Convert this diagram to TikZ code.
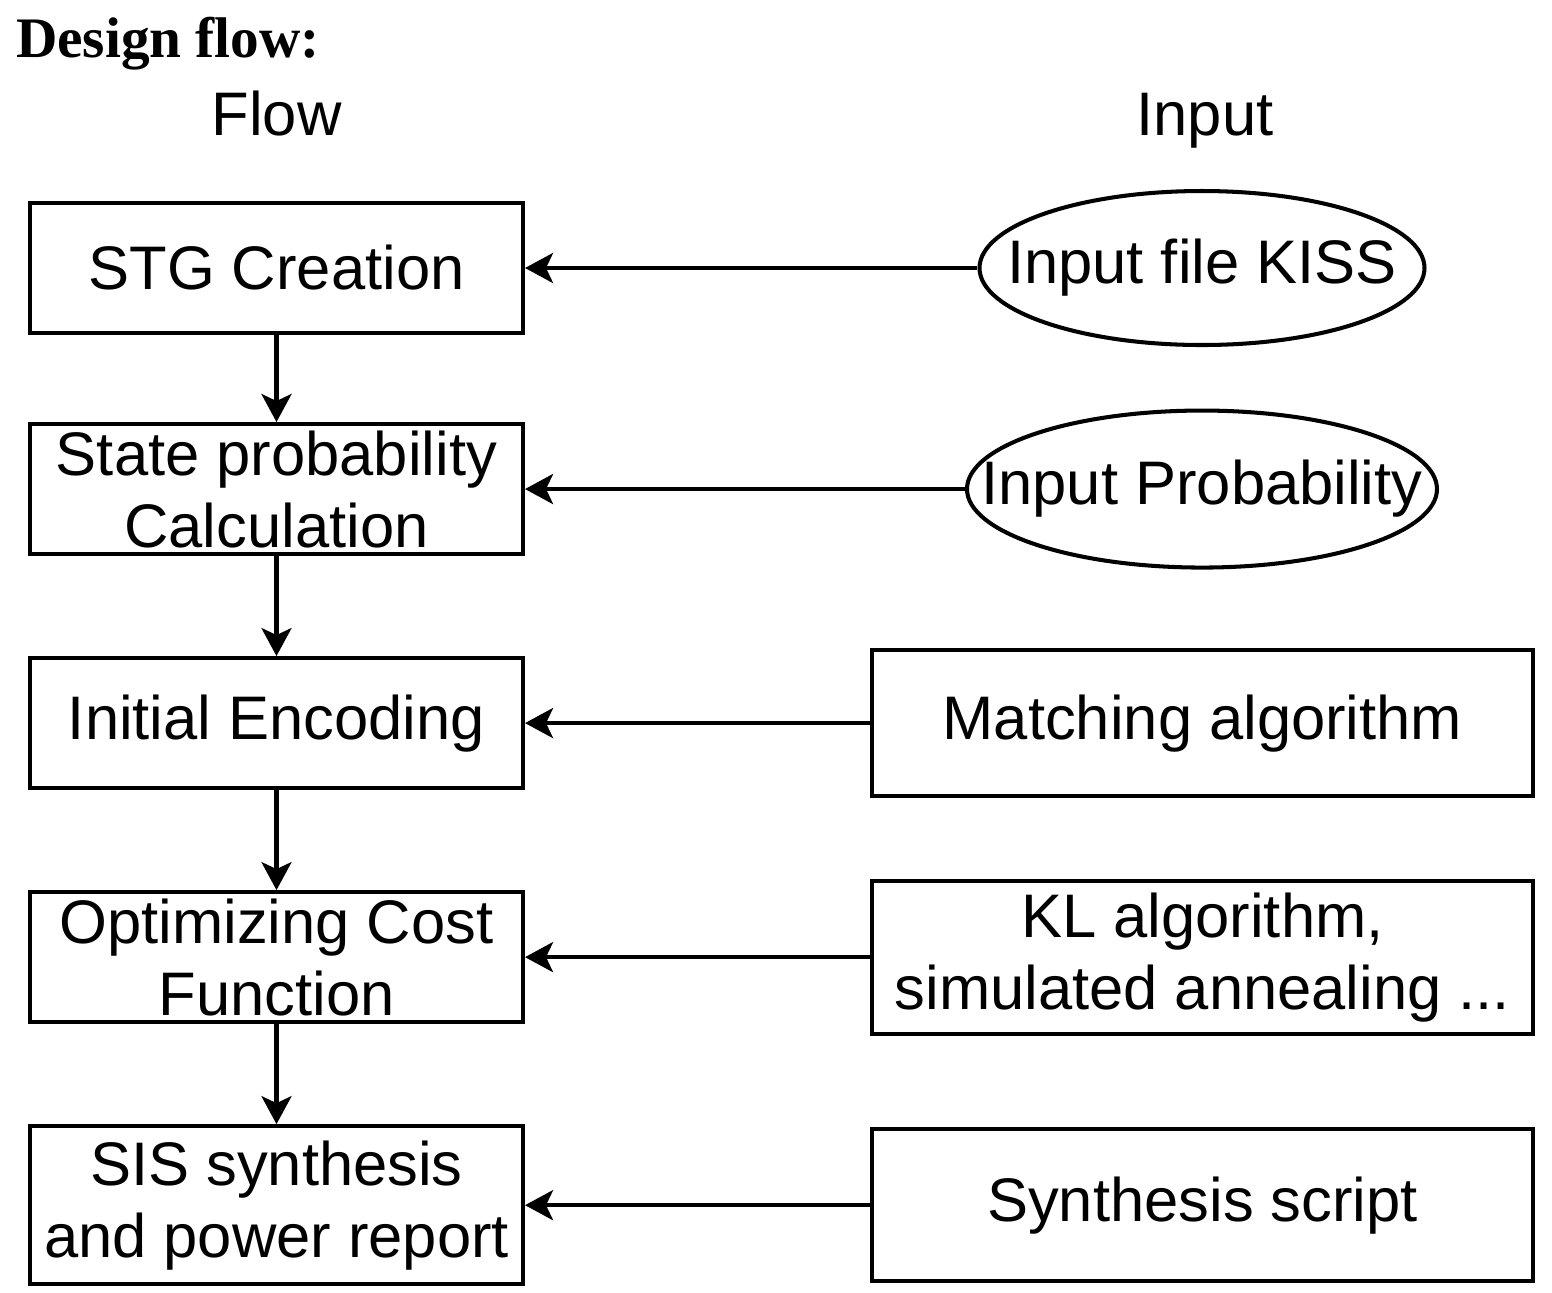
\documentclass[tikz,border=0pt]{standalone}
\usepackage{fontspec}
\setmainfont{Liberation Sans}
\newfontfamily\titlefont{Liberation Serif}
\usetikzlibrary{positioning,arrows.meta,shapes.geometric}

\begin{document}
\begin{tikzpicture}[line width=1.15pt,
        every node/.style={font=\fontsize{17.5}{20.5}\selectfont},
        flowbox/.style={draw, align=center, inner sep=0pt, minimum width=4.93cm, minimum height=1.3cm},
        inbox/.style={draw, align=center, inner sep=0pt, minimum width=6.61cm},
        inoval/.style={draw, ellipse, inner sep=0pt},
        feed/.style={-{Stealth[length=0.28cm, width=0.3cm, inset=0.07cm]}}]
        \useasboundingbox (0,0) rectangle (15.52,-12.92);

        \node[
            anchor=base west,
            inner sep=0pt,
            font=\titlefont\bfseries\fontsize{16.3}{19}\selectfont
        ](title) at (0.14,-0.57){Design flow:};

        \node[anchor=base](flowhead) at (2.765,-1.35){Flow};
        \node[anchor=base](inhead) at (12.05,-1.35){Input};

        % flow column
        \node[flowbox](stg) at (2.765,-2.68){STG Creation};
        \node[flowbox, below=0.87cm of stg](prob){State probability\\Calculation};
        \node[flowbox, below=1cm of prob](enc){Initial Encoding};
        \node[flowbox, below=1cm of enc](cost){Optimizing Cost\\Function};
        \node[flowbox, below=1cm of cost, minimum height=1.58cm](sis){SIS synthesis\\and power report};

        % input column
        \coordinate (incol) at (12.02,0);
        \node[inoval, minimum width=4.45cm, minimum height=1.54cm](kiss) at (incol |- stg){\makebox[0pt]{Input file KISS}};
        \node[inoval, minimum width=4.7cm, minimum height=1.57cm](inprob) at (incol |- prob){\makebox[0pt]{Input Probability}};
        \node[inbox, minimum height=1.46cm](match) at (12.025,0 |- enc){Matching algorithm};
        \node[inbox, minimum height=1.53cm](kl) at (12.025,0 |- cost){KL algorithm,\\simulated annealing ...};
        \node[inbox, minimum height=1.52cm](script) at (12.025,0 |- sis){Synthesis script};

        \draw [feed](stg.south) -- (prob.north);
        \draw [feed](prob.south) -- (enc.north);
        \draw [feed](enc.south) -- (cost.north);
        \draw [feed](cost.south) -- (sis.north);

        \draw [feed](kiss.west) -- (stg.east);
        \draw [feed](inprob.west) -- (prob.east);
        \draw [feed](match.west) -- (enc.east);
        \draw [feed](kl.west) -- (cost.east);
        \draw [feed](script.west) -- (sis.east);
    \end{tikzpicture}
\end{document}
